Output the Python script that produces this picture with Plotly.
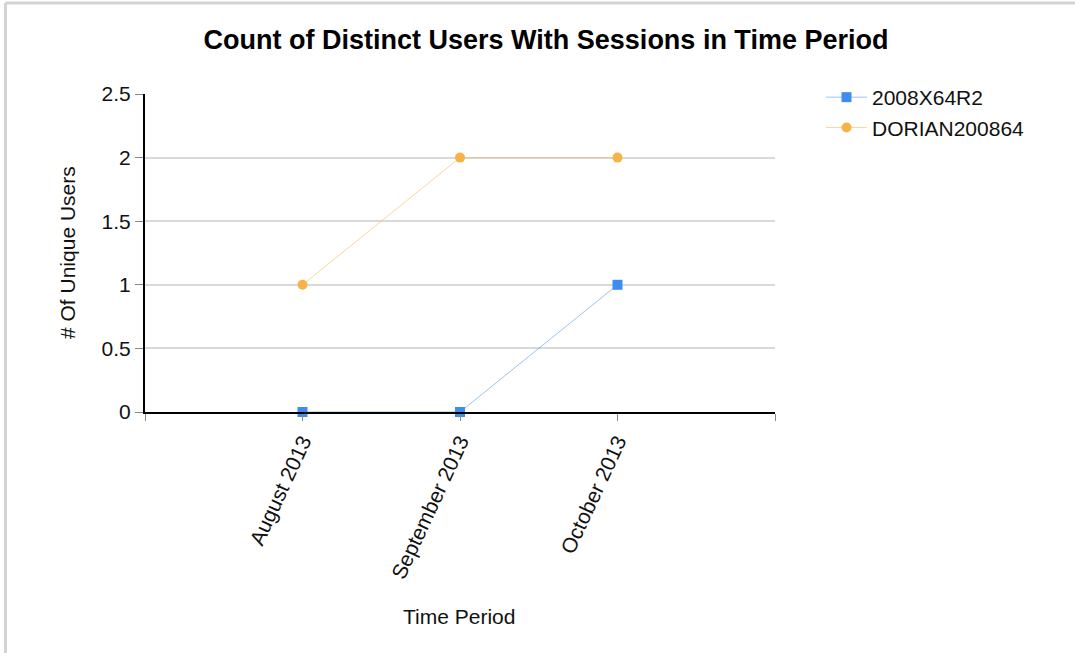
import plotly.graph_objects as go

categories = ["August 2013", "September 2013", "October 2013"]
series_2008 = [0, 0, 1]
series_dorian = [1, 2, 2]
y_ticks = [0, 0.5, 1, 1.5, 2, 2.5]

W, H = 1075, 653
L, R, T, B = 145, 300, 94, 241
pw, ph = W - L - R, H - T - B

def px(x):
    return (x - L) / pw

def py(y):
    return (H - B - y) / ph

xpos = list(range(len(categories)))
font = "Arial, Liberation Sans, sans-serif"
FS = 21

fig = go.Figure()
fig.add_trace(go.Scatter(
    x=xpos, y=series_2008, name="2008X64R2", mode="lines+markers",
    line=dict(color="rgba(74,144,240,0.55)", width=1),
    marker=dict(symbol="square", size=10, color="#3f8cf0"),
    cliponaxis=False,
))
fig.add_trace(go.Scatter(
    x=xpos, y=series_dorian, name="DORIAN200864", mode="lines+markers",
    line=dict(color="rgba(247,180,70,0.55)", width=1),
    marker=dict(symbol="circle", size=10, color="#f7b347"),
    cliponaxis=False,
))

fig.update_layout(
    width=W, height=H,
    margin=dict(l=L, r=R, t=T, b=B, autoexpand=False),
    plot_bgcolor="white", paper_bgcolor="white",
    font=dict(family=font, size=FS, color="#111"),
    title=dict(text="<b>Count of Distinct Users With Sessions in Time Period</b>",
               x=546 / W, xanchor="center", y=1 - 40 / H, yanchor="middle",
               font=dict(size=27, color="#000")),
    showlegend=True,
    legend=dict(x=px(821), y=py(77), xanchor="left", yanchor="top",
                font=dict(size=FS, color="#111"), bgcolor="rgba(0,0,0,0)",
                tracegroupgap=0, itemwidth=41),
    xaxis=dict(
        range=[-1, len(categories)],
        tickvals=[-1] + xpos + [len(categories)],
        ticktext=[""] + categories + [""],
        tickangle=-65,
        showgrid=False, zeroline=False,
        showline=True, linecolor="#000", linewidth=2,
        ticks="outside", ticklen=7, tickcolor="#888", tickwidth=1,
        tickfont=dict(size=FS, color="#111"),
    ),
    yaxis=dict(
        range=[0, 2.5],
        tickvals=y_ticks,
        ticktext=[f"{v:g}" for v in y_ticks],
        showgrid=True, gridcolor="#d9d9d9", gridwidth=2,
        zeroline=False,
        showline=True, linecolor="#000", linewidth=2,
        ticks="outside", ticklen=8, tickcolor="#888", tickwidth=1,
        tickfont=dict(size=FS, color="#111"),
    ),
    annotations=[
        dict(text="# Of Unique Users", xref="paper", yref="paper",
             x=px(67), y=0.5, textangle=-90, showarrow=False,
             xanchor="center", yanchor="middle", font=dict(size=FS, color="#111")),
        dict(text="Time Period", xref="paper", yref="paper",
             x=px(459), y=py(616), showarrow=False,
             xanchor="center", yanchor="middle", font=dict(size=FS, color="#111")),
    ],
    shapes=[
        dict(type="line", xref="paper", yref="paper",
             x0=px(5.5), x1=px(W + 5), y0=py(3), y1=py(3),
             line=dict(color="#d3d3d3", width=3)),
        dict(type="line", xref="paper", yref="paper",
             x0=px(5.5), x1=px(5.5), y0=py(3), y1=py(H + 5),
             line=dict(color="#d3d3d3", width=3)),
    ],
)

fig.write_html(
    "out.html",
    config={"displayModeBar": False},
    post_script="document.body.style.margin='0';document.body.style.overflow='hidden';",
)
